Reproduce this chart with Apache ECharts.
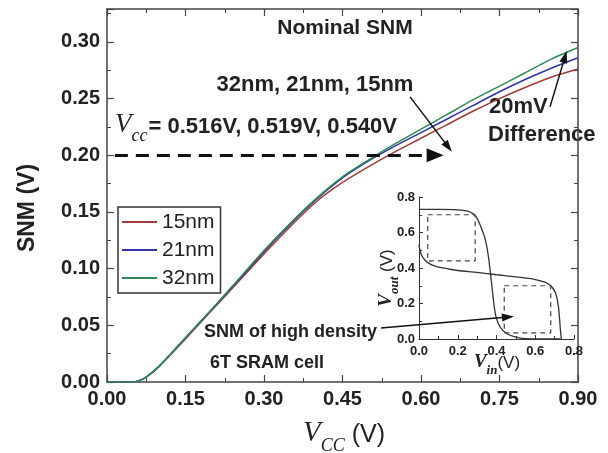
<!DOCTYPE html>
<html><head><meta charset="utf-8">
<script src="https://cdn.jsdelivr.net/npm/echarts@6/dist/echarts.min.js"></script>
<style>html,body{margin:0;padding:0;background:#fff}#c{width:608px;height:453px}</style>
</head><body><div id="c"></div>
<script>
// ---- main chart data (SNM vs Vcc) ----
const vcc   = [0, 0.03, 0.05, 0.06, 0.07, 0.08, 0.10, 0.15, 0.20, 0.25, 0.30, 0.35, 0.40, 0.45, 0.50, 0.55, 0.60, 0.65, 0.70, 0.75, 0.80, 0.85, 0.90];
const snm15 = [0, 0, 0, 0.001, 0.003, 0.006, 0.014, 0.038, 0.063, 0.088, 0.113, 0.137, 0.159, 0.176, 0.190, 0.203, 0.215, 0.227, 0.239, 0.250, 0.260, 0.269, 0.276];
const snm21 = [0, 0, 0, 0.001, 0.003, 0.006, 0.014, 0.039, 0.064, 0.089, 0.115, 0.139, 0.161, 0.180, 0.195, 0.208, 0.220, 0.232, 0.244, 0.256, 0.267, 0.277, 0.286];
const snm32 = [0, 0, 0, 0.001, 0.003, 0.006, 0.014, 0.039, 0.064, 0.090, 0.116, 0.140, 0.162, 0.181, 0.196, 0.210, 0.223, 0.236, 0.249, 0.261, 0.273, 0.285, 0.295];
const seriesNames = ['15nm', '21nm', '32nm'];
const xTicks = [0, 0.15, 0.30, 0.45, 0.60, 0.75, 0.90];
const yTicks = [0, 0.05, 0.10, 0.15, 0.20, 0.25, 0.30];

// ---- inset butterfly curve data ----
const vin1  = [0, 0.10, 0.20, 0.25, 0.28, 0.30, 0.32, 0.34, 0.35, 0.36, 0.37, 0.38, 0.39, 0.40, 0.42, 0.45, 0.50, 0.55, 0.73];
const vout1 = [0.73, 0.73, 0.728, 0.72, 0.705, 0.68, 0.63, 0.57, 0.52, 0.45, 0.36, 0.26, 0.17, 0.115, 0.065, 0.032, 0.010, 0.002, 0.0];
const vin2  = [0, 0.01, 0.03, 0.06, 0.10, 0.15, 0.20, 0.30, 0.40, 0.50, 0.60, 0.65, 0.68, 0.70, 0.71, 0.72, 0.725, 0.73, 0.735];
const vout2 = [0.53, 0.48, 0.445, 0.42, 0.405, 0.395, 0.386, 0.375, 0.362, 0.35, 0.335, 0.32, 0.30, 0.27, 0.24, 0.18, 0.12, 0.05, 0.0];
const sq1X = [0.045, 0.29, 0.29, 0.045, 0.045];
const sq1Y = [0.70, 0.70, 0.44, 0.44, 0.70];
const sq2X = [0.44, 0.68, 0.68, 0.44, 0.44];
const sq2Y = [0.30, 0.30, 0.035, 0.035, 0.30];

// ---- annotation coordinates (data space of main plot) ----
const dashArrow = [[0.015, 0.20], [0.627, 0.20]];
const arrowNodes = [[0.579, 0.2515], [0.652, 0.2074]];
const arrow20mV = [[0.8465, 0.2427], [0.8751, 0.2868]];
const arrowSNM = [[0.5236, 0.0476], [0.766, 0.0573]];

const zip = (a, b) => a.map((v, i) => [v, b[i]]);
const colors = ['#a23b3b', '#3434a6', '#2e8b57'];
const SANS = '"Liberation Sans", Arial, sans-serif';
const SERIF = '"Liberation Serif", "Times New Roman", serif';
const axisCol = '#444';
const lblStyle = {fontFamily: SANS, fontWeight: 'bold', fontSize: 20, color: '#222'};

const chart = echarts.init(document.getElementById('c'), null, {renderer: 'canvas'});

const mainAxisCommon = {
  type: 'value', gridIndex: 0,
  splitLine: {show: false},
  axisLine: {show: true, onZero: false, lineStyle: {color: axisCol, width: 1.5}},
  axisTick: {show: true, inside: true, length: 7, lineStyle: {color: axisCol, width: 1.2}},
  minorTick: {show: true, splitNumber: 2, length: 4, lineStyle: {color: axisCol, width: 1}}
};

const option = {
  animation: false,
  backgroundColor: '#fff',
  grid: [
    {left: 107, top: 9, width: 471, height: 373},
    {left: 419, top: 197, width: 155, height: 142}
  ],
  legend: {
    data: seriesNames,
    orient: 'vertical', left: 118, top: 207,
    icon: 'rect', itemWidth: 35, itemHeight: 2, itemGap: 6,
    padding: [4, 6, 4, 4],
    borderColor: '#333', borderWidth: 1.5,
    textStyle: {fontFamily: SANS, fontSize: 21, color: '#222', lineHeight: 22, padding: [0, 0, 0, 0]},
    selectedMode: false
  },
  xAxis: [
    Object.assign({}, mainAxisCommon, {
      position: 'bottom', min: 0, max: 0.9, interval: 0.15,
      axisLabel: Object.assign({}, lblStyle, {margin: 7, formatter: v => xTicks.some(t => Math.abs(t - v) < 1e-6) ? v.toFixed(2) : ''})
    }),
    Object.assign({}, mainAxisCommon, {
      position: 'top', min: 0, max: 0.9, interval: 0.15, axisLabel: {show: false}
    }),
    {
      type: 'value', gridIndex: 1, min: 0, max: 0.8, interval: 0.2, position: 'bottom',
      splitLine: {show: false},
      axisLine: {show: true, onZero: false, lineStyle: {color: '#333', width: 1}},
      axisTick: {show: true, inside: true, length: 4, lineStyle: {color: '#333'}},
      minorTick: {show: true, splitNumber: 2, length: 3, lineStyle: {color: '#333'}},
      axisLabel: {fontFamily: SANS, fontWeight: 'bold', fontSize: 13, color: '#222', margin: 6, formatter: v => v.toFixed(1)}
    }
  ],
  yAxis: [
    Object.assign({}, mainAxisCommon, {
      position: 'left', min: 0, max: 0.329, interval: 0.05,
      axisLabel: Object.assign({}, lblStyle, {margin: 7, showMaxLabel: false, formatter: v => yTicks.some(t => Math.abs(t - v) < 1e-6) ? v.toFixed(2) : ''})
    }),
    Object.assign({}, mainAxisCommon, {
      position: 'right', min: 0, max: 0.329, interval: 0.05, axisLabel: {show: false}
    }),
    {
      type: 'value', gridIndex: 1, min: 0, max: 0.8, interval: 0.2, position: 'left',
      splitLine: {show: false},
      axisLine: {show: true, onZero: false, lineStyle: {color: '#333', width: 1}},
      axisTick: {show: true, inside: true, length: 4, lineStyle: {color: '#333'}},
      minorTick: {show: true, splitNumber: 2, length: 3, lineStyle: {color: '#333'}},
      axisLabel: {fontFamily: SANS, fontWeight: 'bold', fontSize: 13, color: '#222', margin: 4, formatter: v => v.toFixed(1)}
    }
  ],
  series: [
    {name: seriesNames[0], type: 'line', xAxisIndex: 0, yAxisIndex: 0, data: zip(vcc, snm15), showSymbol: false, smooth: 0.25, color: colors[0], lineStyle: {width: 1.5}, z: 3},
    {name: seriesNames[1], type: 'line', xAxisIndex: 0, yAxisIndex: 0, data: zip(vcc, snm21), showSymbol: false, smooth: 0.25, color: colors[1], lineStyle: {width: 1.5}, z: 3},
    {name: seriesNames[2], type: 'line', xAxisIndex: 0, yAxisIndex: 0, data: zip(vcc, snm32), showSymbol: false, smooth: 0.25, color: colors[2], lineStyle: {width: 1.5}, z: 3},
    {name: 'vtc1', type: 'line', xAxisIndex: 2, yAxisIndex: 2, data: zip(vin1, vout1), showSymbol: false, smooth: 0.3, lineStyle: {color: '#333', width: 1.3}},
    {name: 'vtc2', type: 'line', xAxisIndex: 2, yAxisIndex: 2, data: zip(vin2, vout2), showSymbol: false, smooth: 0.3, lineStyle: {color: '#333', width: 1.3}},
    {name: 'sq1', type: 'line', xAxisIndex: 2, yAxisIndex: 2, data: zip(sq1X, sq1Y), showSymbol: false, lineStyle: {color: '#444', width: 1.2, type: [5, 4]}},
    {name: 'sq2', type: 'line', xAxisIndex: 2, yAxisIndex: 2, data: zip(sq2X, sq2Y), showSymbol: false, lineStyle: {color: '#444', width: 1.2, type: [5, 4]}},
    {
      name: 'annot', type: 'line', xAxisIndex: 0, yAxisIndex: 0, data: [], z: 5,
      markLine: {
        silent: true, animation: false,
        label: {show: false},
        symbol: ['none', 'triangle'],
        data: [
          [{coord: dashArrow[0], symbol: 'none', lineStyle: {color: '#111', width: 3.2, type: [13, 8]}},
           {coord: dashArrow[1], symbol: 'triangle', symbolSize: [14, 17]}],
          [{coord: arrowNodes[0], symbol: 'none', lineStyle: {color: '#111', width: 1.5, type: 'solid'}},
           {coord: arrowNodes[1], symbol: 'triangle', symbolSize: [8, 12]}],
          [{coord: arrow20mV[0], symbol: 'none', lineStyle: {color: '#111', width: 1.5, type: 'solid'}},
           {coord: arrow20mV[1], symbol: 'triangle', symbolSize: [8, 12]}],
          [{coord: arrowSNM[0], symbol: 'none', lineStyle: {color: '#111', width: 1.5, type: 'solid'}},
           {coord: arrowSNM[1], symbol: 'triangle', symbolSize: [8, 12]}]
        ]
      }
    }
  ],
  graphic: [
    {type: 'text', x: 345, y: 28, style: {text: 'Nominal SNM', fontFamily: SANS, fontWeight: 'bold', fontSize: 21, fill: '#222', align: 'center', verticalAlign: 'middle'}},
    {type: 'text', x: 315, y: 85, style: {text: '32nm, 21nm, 15nm', fontFamily: SANS, fontWeight: 'bold', fontSize: 22, fill: '#222', align: 'center', verticalAlign: 'middle'}},
    {type: 'text', x: 115, y: 128, style: {
      text: '{v|V}{s|cc}{t|= 0.516V, 0.519V, 0.540V}', align: 'left', verticalAlign: 'middle',
      rich: {
        v: {fontFamily: SERIF, fontStyle: 'italic', fontSize: 27, fill: '#222', verticalAlign: 'bottom', padding: [0, 0, 7, 0]},
        s: {fontFamily: SERIF, fontStyle: 'italic', fontSize: 18, fill: '#222', verticalAlign: 'bottom', padding: [0, 1, 0, 0]},
        t: {fontFamily: SANS, fontWeight: 'bold', fontSize: 22, fill: '#222', verticalAlign: 'bottom', padding: [0, 0, 7, 0]}
      }}},
    {type: 'text', x: 489, y: 107, style: {text: '20mV', fontFamily: SANS, fontWeight: 'bold', fontSize: 22, fill: '#222', align: 'left', verticalAlign: 'middle'}},
    {type: 'text', x: 488, y: 135, style: {text: 'Difference', fontFamily: SANS, fontWeight: 'bold', fontSize: 22, fill: '#222', align: 'left', verticalAlign: 'middle'}},
    {type: 'text', x: 204, y: 332, style: {text: 'SNM of high density', fontFamily: SANS, fontWeight: 'bold', fontSize: 18, fill: '#222', align: 'left', verticalAlign: 'middle'}},
    {type: 'text', x: 210, y: 363, style: {text: '6T SRAM cell', fontFamily: SANS, fontWeight: 'bold', fontSize: 18, fill: '#222', align: 'left', verticalAlign: 'middle'}},
    {type: 'text', x: 28, y: 208, rotation: Math.PI / 2, style: {text: 'SNM (V)', fontFamily: SANS, fontWeight: 'bold', fontSize: 23, fill: '#222', align: 'center', verticalAlign: 'middle'}},
    {type: 'text', x: 344, y: 437, style: {
      text: '{v|V}{s|CC}{u| (V)}', align: 'center', verticalAlign: 'middle',
      rich: {
        v: {fontFamily: SERIF, fontStyle: 'italic', fontSize: 29, fill: '#222', verticalAlign: 'bottom', padding: [0, 0, 8, 0]},
        s: {fontFamily: SERIF, fontStyle: 'italic', fontSize: 18, fill: '#222', verticalAlign: 'bottom'},
        u: {fontFamily: SANS, fontSize: 25, fill: '#222', verticalAlign: 'bottom', padding: [0, 0, 8, 0]}
      }}},
    {type: 'text', x: 497, y: 365, style: {
      text: '{v|V}{s|in}{u|(V)}', align: 'center', verticalAlign: 'middle',
      rich: {
        v: {fontFamily: SERIF, fontStyle: 'italic', fontWeight: 'bold', fontSize: 19, fill: '#222', verticalAlign: 'bottom', padding: [0, 0, 5, 0]},
        s: {fontFamily: SERIF, fontStyle: 'italic', fontWeight: 'bold', fontSize: 13, fill: '#222', verticalAlign: 'bottom'},
        u: {fontFamily: SANS, fontSize: 17, fill: '#222', verticalAlign: 'bottom', padding: [0, 0, 5, 0]}
      }}},
    {type: 'text', x: 389, y: 278, rotation: Math.PI / 2, style: {
      text: '{v|V}{s|out}{u| (V)}', align: 'center', verticalAlign: 'middle',
      rich: {
        v: {fontFamily: SERIF, fontStyle: 'italic', fontWeight: 'bold', fontSize: 19, fill: '#222', verticalAlign: 'bottom', padding: [0, 0, 5, 0]},
        s: {fontFamily: SERIF, fontStyle: 'italic', fontWeight: 'bold', fontSize: 13, fill: '#222', verticalAlign: 'bottom'},
        u: {fontFamily: SANS, fontSize: 17, fill: '#222', verticalAlign: 'bottom', padding: [0, 0, 5, 0]}
      }}}
  ]
};
chart.setOption(option);
</script>
</body></html>
